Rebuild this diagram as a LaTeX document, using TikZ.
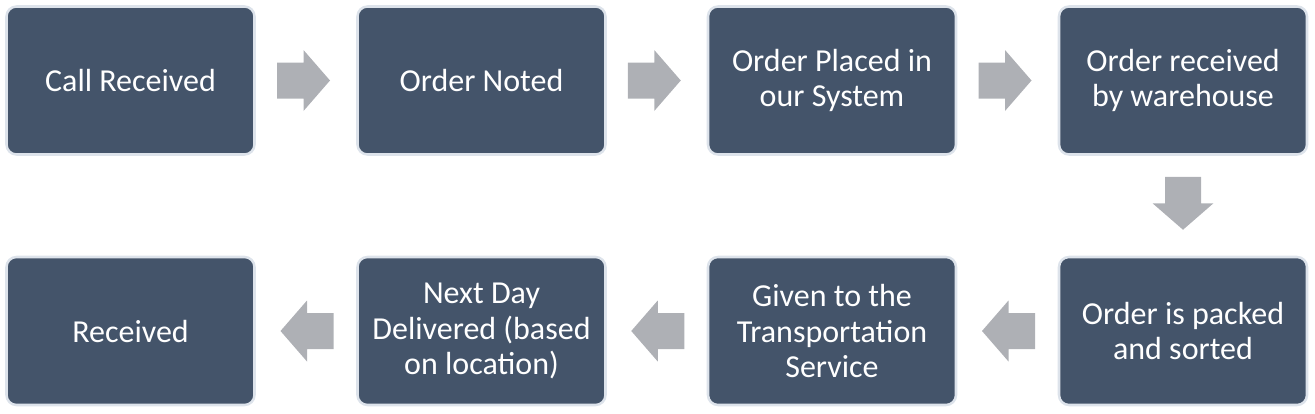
\documentclass[tikz,border=0pt]{standalone}
\usepackage{fontspec}
\setmainfont{Carlito}
\usetikzlibrary{calc}
\definecolor{boxfill}{HTML}{44546A}
\definecolor{boxline}{HTML}{DDE3EB}
\definecolor{arrowgray}{HTML}{AEB0B5}
\begin{document}
\begin{tikzpicture}[x=0.75pt,y=0.75pt,
  stepbox/.style={rectangle, rounded corners=7.5pt, fill=boxfill, draw=boxline,
    line width=1.9pt, minimum width=186pt, minimum height=111pt,
    text=white, align=center, font=\fontsize{24}{26.3}\selectfont, inner sep=2pt},
  blockarrow/.pic={\fill[arrowgray] (-26.5,-18) -- (0,-18) -- (0,-30.5) -- (26.5,0)
      -- (0,30.5) -- (0,18) -- (-26.5,18) -- cycle;}]
\useasboundingbox (0,0) rectangle (1315,-414);
\node[stepbox] (n1) at (130.5,-80.5) {Call Received};
\node[stepbox] (n2) at (481.5,-80.5) {Order Noted};
\node[stepbox] (n3) at (832,-80.5) {Order Placed in\\our System};
\node[stepbox] (n4) at (1183,-80.5) {Order received\\by warehouse};
\node[stepbox] (n5) at (1183,-331) {Order is packed\\and sorted};
\node[stepbox] (n6) at (832,-331) {Given to the\\Transportation\\Service};
\node[stepbox] (n7) at (481.5,-331) {Next Day\\Delivered (based\\on location)};
\node[stepbox] (n8) at (130.5,-331) {Received};
\pic at ($(n1.east)!0.5!(n2.west)+(-2.5,0)$) {blockarrow};
\pic at ($(n2.east)!0.5!(n3.west)+(-2.5,0)$) {blockarrow};
\pic at ($(n3.east)!0.5!(n4.west)+(-2.5,0)$) {blockarrow};
\pic[rotate=-90] at ($(n4.south)!0.5!(n5.north)+(0,2.5)$) {blockarrow};
\pic[rotate=180] at ($(n5.west)!0.5!(n6.east)+(1,0)$) {blockarrow};
\pic[rotate=180] at ($(n6.west)!0.5!(n7.east)+(1,0)$) {blockarrow};
\pic[rotate=180] at ($(n7.west)!0.5!(n8.east)+(1,0)$) {blockarrow};
\end{tikzpicture}
\end{document}
